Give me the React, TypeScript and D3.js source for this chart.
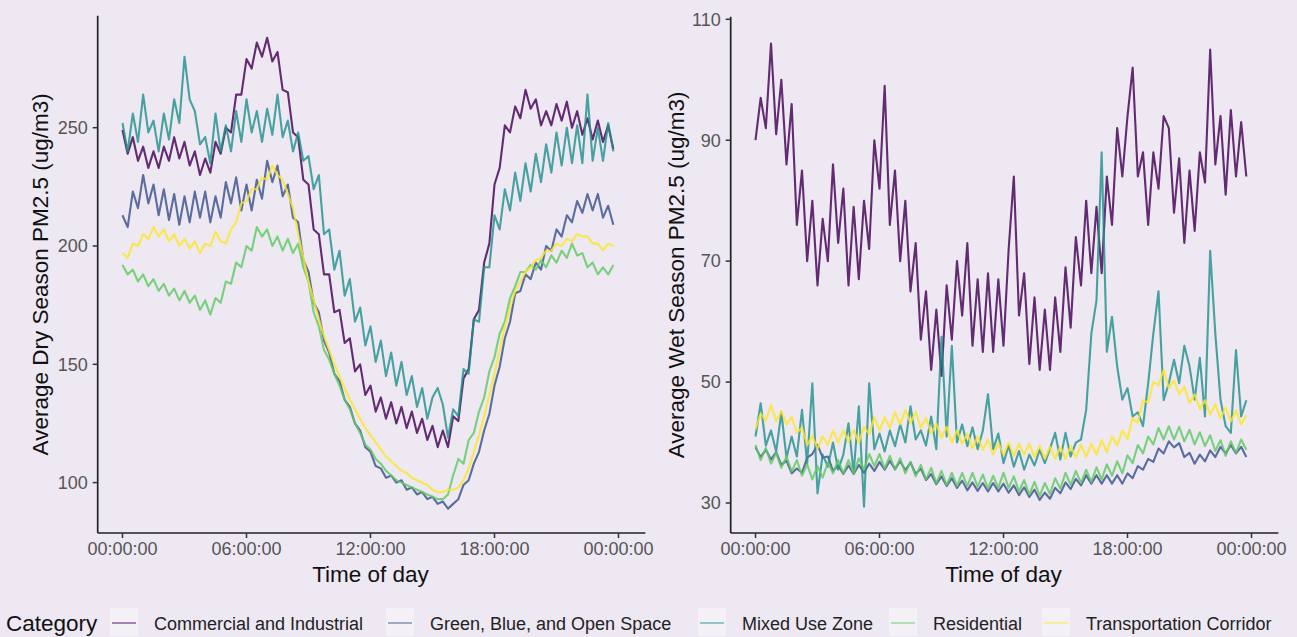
import React from "react";
import * as d3 from "d3";

// categories in plotting order (later ones drawn on top)
const categories = [
  "Commercial and Industrial",
  "Green, Blue, and Open Space",
  "Mixed Use Zone",
  "Residential",
  "Transportation Corridor",
];

// sample times, minutes after midnight (15 min averages)
const timeOfDay = d3.range(0, 1440, 15);
const xTickValues = [0, 360, 720, 1080, 1440];
const xTickLabels = ["00:00:00", "06:00:00", "12:00:00", "18:00:00", "00:00:00"];
const dryTicks = [100, 150, 200, 250];
const wetTicks = [30, 50, 70, 90, 110];

// dry season averages (ug/m3)
const dryCommercial = [249,239,246,236,242,233,240,233,242,236,246,237,244,234,240,230,237,231,244,239,250,248,264,264,279,275,286,280,288,278,282,266,265,248,246,228,226,207,205,188,188,172,173,159,161,147,150,137,141,130,136,127,134,125,132,123,130,121,127,118,124,115,122,115,128,126,144,148,169,173,193,201,226,233,251,248,259,254,266,258,262,251,257,251,260,253,261,250,257,247,254,245,253,244,251,241];
const dryGreenBlue = [213,208,223,216,230,218,226,213,224,211,222,209,221,210,223,212,223,210,221,212,227,218,229,215,226,215,228,220,236,227,234,221,226,212,210,194,189,176,172,160,155,146,143,135,132,125,122,115,113,107,106,102,103,100,101,97,98,95,96,93,94,91,92,89,91,93,99,101,108,113,122,129,141,149,161,168,180,181,188,186,193,190,200,198,207,204,213,210,219,214,222,215,222,212,217,209];
const dryMixedUse = [252,240,256,244,264,248,253,240,256,245,262,252,280,262,257,243,246,235,256,240,251,240,257,244,262,248,257,244,258,247,264,246,253,240,248,236,238,224,230,205,207,190,198,179,186,168,174,158,166,151,160,145,155,141,151,137,145,132,140,127,136,140,133,119,131,128,148,146,169,168,191,191,213,207,224,215,231,219,235,223,239,227,243,231,248,234,250,235,251,235,264,236,250,236,252,240];
const dryResidential = [192,188,190,185,188,183,186,181,184,179,182,177,181,176,179,173,177,171,178,176,185,184,193,191,200,198,208,204,207,200,204,198,203,197,201,191,185,172,166,156,152,146,141,135,131,125,121,116,114,110,108,105,103,101,100,99,98,97,96,95,94,93,93,95,103,110,108,118,121,130,136,147,153,163,168,178,183,189,189,192,190,194,191,196,193,198,195,201,196,197,191,193,188,191,188,192];
const dryTransport = [197,195,201,200,205,203,208,204,207,202,205,200,203,199,202,197,201,200,206,202,201,207,210,218,219,224,224,229,228,234,230,228,222,216,205,195,185,177,169,162,156,150,145,140,135,131,127,123,120,117,114,111,109,107,105,104,102,101,100,99,97,96,96,97,97,98,101,106,113,120,128,137,146,156,166,174,181,185,189,191,194,195,198,198,201,200,203,202,205,204,204,201,201,198,201,200];

// wet season averages (ug/m3)
const wetCommercial = [90,97,92,106,91,100,86,96,76,85,70,80,66,77,70,86,73,82,66,79,67,80,72,90,82,99,76,85,70,80,65,73,57,65,52,62,51,66,57,70,61,73,56,67,55,68,55,67,56,72,84,61,68,53,64,52,62,52,64,55,69,59,74,66,80,68,79,68,84,76,92,84,94,102,84,88,76,88,82,94,92,78,87,73,85,75,88,83,105,86,94,81,95,84,93,84];
const wetGreenBlue = [39.2,37.6,38.8,37.2,38.4,36.3,37.0,34.9,35.7,35.0,37.5,38.1,39.6,37.5,37.7,35.3,36.2,34.8,36.2,34.8,36.3,35.0,36.5,35.3,36.8,35.5,37.0,35.6,36.9,35.4,36.7,34.8,35.7,33.8,34.8,33.1,34.4,32.8,34.1,32.5,33.7,32.1,33.4,32.0,33.3,31.9,33.3,31.9,33.2,31.7,32.9,31.3,32.6,31.0,32.2,30.5,31.7,30.7,32.5,31.6,33.4,32.3,34.0,32.9,34.6,33.2,34.6,33.2,34.6,33.2,34.6,33.2,34.9,34.1,36.1,35.5,37.3,36.8,39.0,38.2,40.2,39.2,39.9,37.6,38.3,36.5,38.0,36.9,38.7,37.6,39.3,38.2,39.6,38.2,39.3,37.6];
const wetMixedUse = [41,46.5,39.5,42,38.5,45,37.5,41,37.7,45.4,36.5,49.8,31.6,38,36,40,35.5,38,43.2,35,46,29.4,49.8,38.9,41.5,38.5,42,39.4,43,40,46,40.5,42,39.5,44.3,38.9,57.5,41,56,40,43,39.4,42.5,38.9,42,48,38.9,41.5,36.6,39.5,36,38.6,35.5,38,36.2,38.8,36.6,39,41.6,37.2,41.6,37.7,40,40.5,45.4,58,63.5,88,55,60.8,52.6,47.1,49,44.3,45,42.7,49.8,58,65,47,49.8,53.7,49.8,56,52.6,47.1,54,44.3,71.7,58,47.1,42.7,41.6,55.3,44.3,47];
const wetResidential = [39.6,37.1,39.1,36.5,38.3,35.8,37.7,35.2,37.1,34.5,36.4,33.9,36.1,34.2,36.7,34.9,37.1,34.9,37.1,34.9,37.4,35.5,38.1,36.1,38.1,35.7,37.8,35.5,37.4,34.9,36.8,34.4,36.3,33.9,35.8,33.3,35.3,32.9,35.0,32.8,35.0,32.8,35.0,32.7,34.7,32.4,34.5,32.5,35.0,32.5,34.4,31.9,33.8,31.4,33.5,31.2,33.3,31.5,34.1,32.4,35.0,33.0,35.3,33.3,35.5,33.5,35.9,33.9,36.4,34.5,36.9,34.9,37.9,36.6,39.6,38.2,41.0,39.7,42.4,40.5,42.7,40.5,42.6,40.2,42.1,39.7,41.7,39.4,41.2,38.6,40.4,37.8,40.2,38.3,40.5,38.8];
const wetTransport = [42.2,44.8,43.6,46.2,43.5,45.2,43.0,44.2,41.6,42.5,39.6,41.1,39.0,41.0,39.6,42.0,40.0,42.0,40.1,42.1,40.0,42.6,41.4,44.2,42.0,44.2,42.4,45.0,43.0,45.4,43.2,45.1,42.4,44.1,41.5,43.1,40.8,42.6,40.0,42.0,39.8,41.5,39.0,41.0,38.8,40.5,38.0,40.0,38.0,40.0,37.8,39.8,38.0,39.8,37.6,39.5,37.3,39.3,37.3,39.3,37.3,39.4,37.5,39.6,37.6,39.8,38.0,40.4,38.4,41.0,39.5,42.0,40.6,44.0,43.3,47.0,46.6,50.0,49.5,52.0,49.0,50.3,48.0,49.2,46.5,48.0,45.5,47.0,44.6,46.3,44.0,45.8,43.5,45.3,43.0,44.5];

const drySeries = [dryCommercial, dryGreenBlue, dryMixedUse, dryResidential, dryTransport];
const wetSeries = [wetCommercial, wetGreenBlue, wetMixedUse, wetResidential, wetTransport];

const color = d3
  .scaleOrdinal<string, string>()
  .domain(categories)
  .range(categories.map((_, i) => d3.interpolateViridis(i / (categories.length - 1))));

const BG = "#ede8f2";
const FONT = "'Liberation Sans', Arial, sans-serif";

type PanelProps = {
  xRange: [number, number];
  yDomain: [number, number];
  yRange: [number, number];
  top: number;
  bottom: number;
  ticks: number[];
  series: number[][];
  title: string;
  titleX: number;
};

function Panel({ xRange, yDomain, yRange, top, bottom, ticks, series, title, titleX }: PanelProps) {
  const x = d3.scaleLinear().domain([0, 1440]).range(xRange);
  const y = d3.scaleLinear().domain(yDomain).range(yRange);
  const left = x(-72);
  const right = x(1518);
  const line = d3
    .line<number>()
    .x((_, i) => x(timeOfDay[i]))
    .y((d) => y(d));

  return (
    <g>
      {series.map((s, k) => (
        <path
          key={k}
          d={line(s) ?? ""}
          fill="none"
          stroke={color(categories[k])}
          strokeWidth={2.1}
          strokeOpacity={0.82}
          strokeLinejoin="round"
        />
      ))}
      <line x1={left} x2={left} y1={top} y2={bottom} stroke="#222" strokeWidth={1.7} />
      <line x1={left} x2={right} y1={bottom} y2={bottom} stroke="#222" strokeWidth={1.7} />
      {ticks.map((t) => (
        <g key={t}>
          <line x1={left - 5} x2={left} y1={y(t)} y2={y(t)} stroke="#333" strokeWidth={1.5} />
          <text
            x={left - 10}
            y={y(t)}
            dy="0.35em"
            textAnchor="end"
            fontSize={18}
            fill="#555"
            fontFamily={FONT}
          >
            {t}
          </text>
        </g>
      ))}
      {xTickValues.map((t, i) => (
        <g key={i}>
          <line x1={x(t)} x2={x(t)} y1={bottom} y2={bottom + 5} stroke="#333" strokeWidth={1.5} />
          <text x={x(t)} y={bottom + 22} textAnchor="middle" fontSize={18} fill="#555" fontFamily={FONT}>
            {xTickLabels[i]}
          </text>
        </g>
      ))}
      <text
        x={(x(0) + x(1440)) / 2}
        y={bottom + 49}
        textAnchor="middle"
        fontSize={22.5}
        fill="#111"
        fontFamily={FONT}
      >
        Time of day
      </text>
      <text
        transform={`translate(${titleX},${(top + bottom) / 2}) rotate(-90)`}
        textAnchor="middle"
        dy="0.35em"
        fontSize={22.5}
        fill="#111"
        fontFamily={FONT}
      >
        {title}
      </text>
    </g>
  );
}

// legend key centres along the bottom row
const legendKeyX = [124, 400, 712, 903, 1056];

export default function App() {
  return (
    <div style={{ position: "absolute", left: 0, top: 0, width: 1297, height: 637, background: BG }}>
      <svg width={1297} height={637} style={{ display: "block" }}>
        <rect width={1297} height={637} fill={BG} />
        <Panel
          xRange={[122.5, 618.5]}
          yDomain={[100, 250]}
          yRange={[482.6, 127.7]}
          top={15.7}
          bottom={533}
          ticks={dryTicks}
          series={drySeries}
          title="Average Dry Season PM2.5 (ug/m3)"
          titleX={40}
        />
        <Panel
          xRange={[755.5, 1251.5]}
          yDomain={[30, 110]}
          yRange={[503, 19.3]}
          top={16.7}
          bottom={533}
          ticks={wetTicks}
          series={wetSeries}
          title="Average Wet Season PM2.5 (ug/m3)"
          titleX={676}
        />
        <g fontFamily={FONT}>
          <text x={6} y={631} fontSize={22.5} fill="#111">
            Category
          </text>
          {categories.map((c, i) => (
            <g key={c}>
              <rect x={legendKeyX[i] - 14} y={608} width={28} height={28} fill="#f3f0f6" />
              <line
                x1={legendKeyX[i] - 12}
                x2={legendKeyX[i] + 12}
                y1={623}
                y2={623}
                stroke={color(c)}
                strokeOpacity={0.5}
                strokeWidth={1.8}
              />
              <text x={legendKeyX[i] + 30} y={630} fontSize={18} fill="#222">
                {c}
              </text>
            </g>
          ))}
        </g>
      </svg>
    </div>
  );
}
